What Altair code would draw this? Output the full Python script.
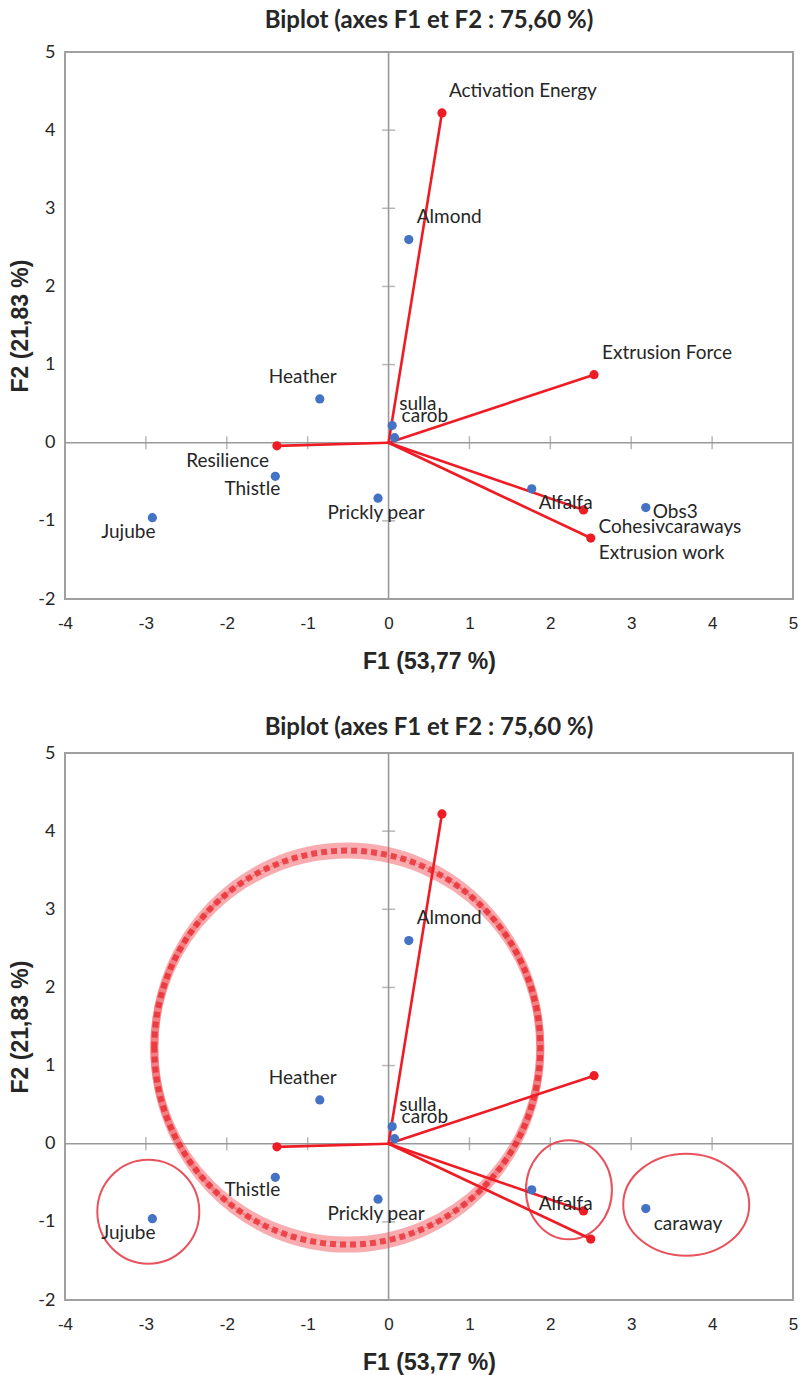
import altair as alt
import pandas as pd

# ---------------- data ----------------
obs_names = ["Almond", "Heather", "sulla", "carob", "Thistle", "Prickly pear", "Jujube", "Alfalfa", "Obs3"]
obs_f1 = [0.25, -0.85, 0.045, 0.075, -1.40, -0.13, -2.92, 1.77, 3.18]
obs_f2 = [2.60, 0.56, 0.22, 0.065, -0.43, -0.71, -0.96, -0.59, -0.83]

var_names = ["Activation Energy", "Extrusion Force", "Resilience", "Cohesiveness", "Extrusion work"]
var_f1 = [0.66, 2.54, -1.38, 2.41, 2.50]
var_f2 = [4.22, 0.87, -0.04, -0.86, -1.22]

# labels shown in each panel
top_var_labels = ["Activation Energy", "Extrusion Force", "Resilience", "Cohesivcaraways", "Extrusion work"]
bottom_obs_labels = ["Almond", "Heather", "sulla", "carob", "Thistle", "Prickly pear", "Jujube", "Alfalfa", "caraway"]

x_ticks = [-4, -3, -2, -1, 0, 1, 2, 3, 4, 5]
y_ticks = [-2, -1, 0, 1, 2, 3, 4, 5]
x_cross_ticks = [-3, -2, -1, 1, 2, 3, 4]
y_cross_ticks = [-1, 1, 2, 3, 4]

# hand-drawn annotation ellipses (bottom panel), centres in F1/F2 units
ell_names = ["big", "jujube", "alfalfa", "caraway"]
ell_f1 = [-0.51, -2.97, 2.23, 3.68]
ell_f2 = [1.23, -0.87, -0.59, -0.78]

# ---------------- styles ----------------
BLUE = "#4472c4"
RED = "#ee1c25"
GRAY = "#999999"
TXT = "#262626"
W, H = 728, 547
TITLE = "Biplot (axes F1 et F2 : 75,60 %)"

# label offsets (dx, dy, align) in pixels
top_offsets = {
    "Almond": (8, -23, "left"), "Heather": (-17, -22, "center"), "sulla": (7, -22, "left"),
    "carob": (7, -22, "left"), "Thistle": (-23, 13, "center"), "Prickly pear": (-2, 15, "center"),
    "Jujube": (-24, 14, "center"), "Alfalfa": (7, 14, "left"), "Obs3": (7, 4, "left"),
    "Activation Energy": (7, -22, "left"), "Extrusion Force": (8, -22, "left"),
    "Resilience": (-8, 15, "right"), "Cohesivcaraways": (15, 17, "left"), "Extrusion work": (8, 15, "left"),
}
bottom_offsets = dict(top_offsets)
bottom_offsets["caraway"] = (8, 15, "left")

# ellipse pixel radii (rx, ry)
ell_radii = {"big": (193, 197), "jujube": (51, 52), "alfalfa": (43, 49.5), "caraway": (63, 51)}

xscale = alt.Scale(domain=[-4, 5], nice=False, zero=False)
yscale = alt.Scale(domain=[-2, 5], nice=False, zero=False)
xaxis = alt.Axis(values=x_ticks, title="F1 (53,77 %)", ticks=False, domain=False, grid=False,
                 labelExpr="'' + datum.value",
                 labelFont="Liberation Sans", labelFontSize=17, labelColor=TXT, labelPadding=16,
                 labelFlush=False, titleFont="Liberation Sans", titleFontSize=23, titleFontWeight="bold",
                 titleColor=TXT, titlePadding=19)
yaxis = alt.Axis(values=y_ticks, title="F2 (21,83 %)", ticks=False, domain=False, grid=False,
                 labelExpr="'' + datum.value",
                 labelFont="Lato", labelFontSize=18, labelColor=TXT, labelPadding=10,
                 labelFlush=False, titleFont="Liberation Sans", titleFontSize=23, titleFontWeight="bold",
                 titleColor=TXT, titlePadding=5)


def X(field="f1"):
    return alt.X(f"{field}:Q", scale=xscale, axis=xaxis)


def Y(field="f2"):
    return alt.Y(f"{field}:Q", scale=yscale, axis=yaxis)


def ellipse_path(rx, ry):
    m = max(rx, ry)
    a, b = rx / m, ry / m
    return f"M {-a} 0 A {a} {b} 0 1 1 {a} 0 A {a} {b} 0 1 1 {-a} 0 Z"


def ellipse_layer(sub, rx, ry, **style):
    return sub.mark_point(shape=ellipse_path(rx, ry), size=(2 * max(rx, ry)) ** 2,
                          filled=False, **style).encode(x=X(), y=Y())


def panel(obs_labels, var_labels, offsets, ellipses, title_offset):
    obs = pd.DataFrame({"f1": obs_f1, "f2": obs_f2, "label": obs_labels})
    var = pd.DataFrame({"f1": [0] * len(var_f1), "f2": [0] * len(var_f2),
                        "f1e": var_f1, "f2e": var_f2})
    varpt = pd.DataFrame({"f1": var_f1, "f2": var_f2})

    zero_v = alt.Chart(pd.DataFrame({"f1": [0]})).mark_rule(color=GRAY, strokeWidth=1.6).encode(x=X())
    zero_h = alt.Chart(pd.DataFrame({"f2": [0]})).mark_rule(color=GRAY, strokeWidth=1.6).encode(y=Y())
    xt = alt.Chart(pd.DataFrame({"f1": x_cross_ticks, "f2": [0] * len(x_cross_ticks)})).mark_tick(
        orient="vertical", size=13, thickness=1.5, color=GRAY).encode(x=X(), y=Y())
    yt = alt.Chart(pd.DataFrame({"f1": [0] * len(y_cross_ticks), "f2": y_cross_ticks})).mark_tick(
        orient="horizontal", size=13, thickness=1.5, color=GRAY).encode(x=X(), y=Y())

    layers = [zero_v, zero_h, xt, yt]

    if ellipses:
        edf = pd.DataFrame({"f1": ell_f1, "f2": ell_f2, "name": ell_names})
        for name in ell_names:
            rx, ry = ell_radii[name]
            sub = alt.Chart(edf[edf["name"] == name])
            if name == "big":
                # blurred, thicker at top and bottom
                layers.append(ellipse_layer(sub, rx, ry + 4, color="#f04a50", strokeWidth=8, opacity=0.45))
                layers.append(ellipse_layer(sub, rx, ry - 4, color="#f04a50", strokeWidth=8, opacity=0.45))
                layers.append(ellipse_layer(sub, rx, ry, color="#e8262c", strokeWidth=6, opacity=0.75,
                                            strokeDash=[6, 4]))
            else:
                layers.append(ellipse_layer(sub, rx, ry, color="#e6404c", strokeWidth=2, opacity=0.9))

    vec = alt.Chart(var).mark_rule(color=RED, strokeWidth=2.6).encode(
        x=X(), y=Y(), x2="f1e:Q", y2="f2e:Q")
    vpts = alt.Chart(varpt).mark_circle(color=RED, size=85, opacity=1).encode(x=X(), y=Y())
    opts = alt.Chart(obs).mark_circle(color=BLUE, size=85, opacity=1).encode(x=X(), y=Y())
    layers += [vec, vpts, opts]

    # text labels
    items = list(zip(obs_f1, obs_f2, obs_labels))
    if var_labels:
        items += list(zip(var_f1, var_f2, var_labels))
    for fx, fy, lab in items:
        dx, dy, al = offsets[lab]
        layers.append(
            alt.Chart(pd.DataFrame({"f1": [fx], "f2": [fy], "label": [lab]})).mark_text(
                dx=dx, dy=dy, align=al, baseline="middle", font="Lato", fontSize=19, color=TXT
            ).encode(x=X(), y=Y(), text="label:N")
        )

    return alt.layer(*layers).properties(
        width=W, height=H,
        title=alt.TitleParams(TITLE, font="Lato", fontSize=24, fontWeight="bold", color=TXT,
                              anchor="middle", frame="group", offset=title_offset),
    )


top = panel(obs_names, top_var_labels, top_offsets, False, 10)
bottom = panel(bottom_obs_labels, None, bottom_offsets, True, 4)

chart = alt.vconcat(top, bottom, spacing=41, padding={"left": 0, "top": 0, "right": 0, "bottom": 0}
                    ).configure_view(stroke="#a0a0a0", strokeWidth=2)

chart.save("out.html", embed_options={"renderer": "svg", "actions": False})
